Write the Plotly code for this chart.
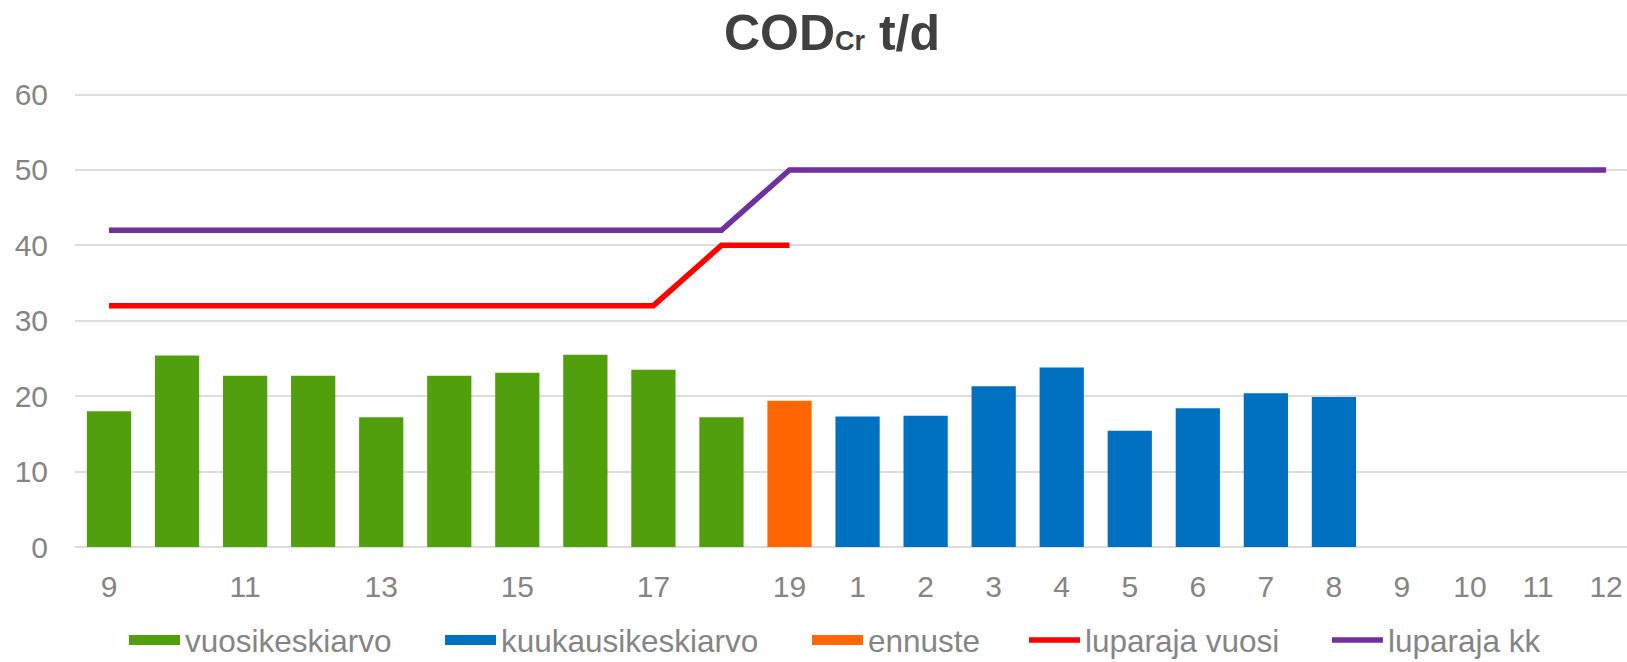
import plotly.graph_objects as go

# Categories: years 2009-2019, then months 1-12
tick_labels = ["9", "", "11", "", "13", "", "15", "", "17", "", "19",
               "1", "2", "3", "4", "5", "6", "7", "8", "9", "10", "11", "12"]

vuosikeskiarvo = [18.0, 25.4, 22.7, 22.7, 17.2, 22.7, 23.1, 25.5, 23.5, 17.2] + [None] * 13
ennuste = [None] * 10 + [19.4] + [None] * 12
kuukausikeskiarvo = [None] * 11 + [17.3, 17.4, 21.3, 23.8, 15.4, 18.4, 20.4, 19.9] + [None] * 4
luparaja_vuosi = [32, 32, 32, 32, 32, 32, 32, 32, 32, 40, 40] + [None] * 12
luparaja_kk = [42] * 10 + [50] * 13

x = list(range(len(tick_labels)))

GREEN = "#529F0E"
BLUE = "#0070C0"
ORANGE = "#FF6600"
RED = "#FF0000"
PURPLE = "#7030A0"
GRAY = "#858585"
FONT = "Liberation Sans, Arial, sans-serif"

fig = go.Figure()

# bars (legend entries drawn as wide swatches via legend-only traces)
bar_series = [
    ("vuosikeskiarvo", vuosikeskiarvo, GREEN, "legend"),
    ("kuukausikeskiarvo", kuukausikeskiarvo, BLUE, "legend2"),
    ("ennuste", ennuste, ORANGE, "legend3"),
]
for name, vals, col, lg in bar_series:
    fig.add_trace(go.Bar(x=x, y=vals, name=name, legendgroup=name, showlegend=False,
                         marker=dict(color=col, line=dict(width=0)), width=0.65))
    fig.add_trace(go.Scatter(x=[None], y=[None], name=name, legendgroup=name,
                             mode="lines", line=dict(color=col, width=16), legend=lg))

fig.add_trace(go.Scatter(x=x, y=luparaja_vuosi, name="luparaja vuosi", mode="lines",
                         line=dict(color=RED, width=5.5), legend="legend4"))
fig.add_trace(go.Scatter(x=x, y=luparaja_kk, name="luparaja kk", mode="lines",
                         line=dict(color=PURPLE, width=5.5), legend="legend5"))

LEG_Y = 1 - 640 / 662
def leg(xpx):
    return dict(orientation="h", xref="container", yref="container",
                x=xpx / 1627, xanchor="left", y=LEG_Y, yanchor="middle",
                font=dict(size=31.5, color=GRAY, family=FONT), itemwidth=51,
                bgcolor="rgba(0,0,0,0)", borderwidth=0)

fig.update_layout(
    width=1627, height=662,
    barmode="overlay",
    plot_bgcolor="white", paper_bgcolor="white",
    margin=dict(l=75, r=0, t=93, b=115, autoexpand=False),
    font=dict(family=FONT, color=GRAY, size=30),
    title=dict(
        text="<b>COD<span style='font-size:27px'>Cr</span> t/d</b>",
        font=dict(family=FONT, size=50, color="#404040"),
        x=832 / 1627, xref="container", xanchor="center",
        y=1 - 32 / 662, yref="container", yanchor="middle",
    ),
    xaxis=dict(
        tickmode="array", tickvals=x, ticktext=tick_labels,
        range=[-0.5, 22.307], showgrid=False, zeroline=False, automargin=False,
        showline=False, ticks="", tickfont=dict(size=30, color=GRAY),
        ticklabelstandoff=19,
    ),
    yaxis=dict(
        range=[0, 60.2], tickvals=[0, 10, 20, 30, 40, 50, 60], showgrid=True,
        gridcolor="#DDDDDD", gridwidth=2, automargin=False,
        zeroline=True, zerolinecolor="#DDDDDD", zerolinewidth=2,
        showline=False, ticks="", tickfont=dict(size=30, color=GRAY),
        ticklabelstandoff=26,
    ),
    legend=leg(124),
    legend2=leg(440),
    legend3=leg(807),
    legend4=leg(1024),
    legend5=leg(1327),
)

fig.write_html("out.html", config={"displayModeBar": False},
               post_script="document.body.style.margin='0px';")
